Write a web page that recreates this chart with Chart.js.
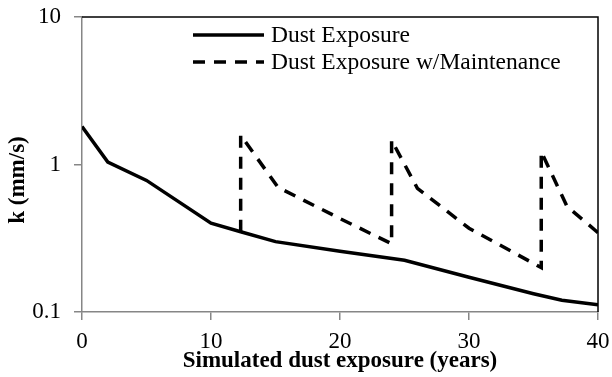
<!DOCTYPE html>
<html>
<head>
<meta charset="utf-8">
<script src="https://cdn.jsdelivr.net/npm/chart.js@4/dist/chart.umd.min.js"></script>
<style>
  body { margin: 0; background: #fff; }
  canvas { display: block; }
</style>
</head>
<body>
<canvas id="myChart" width="612" height="377"></canvas>
<script>
// values
var dustYears = [0, 2, 5, 10, 12.3, 15, 20, 25, 30, 35, 37.2, 40];
var dustK = [1.81, 1.04, 0.78, 0.40, 0.35, 0.30, 0.258, 0.224, 0.172, 0.133, 0.12, 0.112];

var maintYears = [12.3, 12.3, 15.2, 20, 24, 24, 26, 30, 35.6, 35.6, 37.6, 40];
var maintK = [0.35, 1.58, 0.70, 0.43, 0.29, 1.46, 0.69, 0.37, 0.2, 1.22, 0.52, 0.345];

var xTicks = [0, 10, 20, 30, 40];
var yTicks = [0.1, 1, 10];
var yTickLabels = ['0.1', '1', '10'];

var seriesLabels = ['Dust Exposure', 'Dust Exposure w/Maintenance'];

function pairs(xs, ys) {
    return xs.map(function (x, i) { return { x: x, y: ys[i] }; });
}

var serif = 'Liberation Serif, "Times New Roman", serif';
var tickFont = { family: serif, size: 23 };
var titleFont = { family: serif, size: 23, weight: 'bold' };
var axisGray = '#868686';

// legend drawn inside the plot, left aligned like the original
var insideLegend = {
    id: 'insideLegend',
    afterDraw: function (chart) {
        var ctx = chart.ctx;
        var rows = [35, 62];
        ctx.save();
        chart.data.datasets.forEach(function (ds, i) {
            var y = rows[i];
            ctx.beginPath();
            ctx.lineWidth = ds.borderWidth;
            ctx.strokeStyle = ds.borderColor;
            ctx.setLineDash(ds.borderDash || []);
            ctx.moveTo(193, y);
            ctx.lineTo(264, y);
            ctx.stroke();
            ctx.setLineDash([]);
            ctx.fillStyle = '#000';
            ctx.font = '23.5px ' + serif;
            ctx.textBaseline = 'middle';
            ctx.fillText(ds.label, 271, y + 1);
        });
        ctx.restore();
    }
};

// black frame on top/right, y title placed like the original
var frameAndTitle = {
    id: 'frameAndTitle',
    afterDraw: function (chart) {
        var a = chart.chartArea;
        var ctx = chart.ctx;
        ctx.save();
        ctx.strokeStyle = '#000';
        ctx.lineWidth = 1.5;
        ctx.beginPath();
        ctx.moveTo(a.left, a.top);
        ctx.lineTo(a.right, a.top);
        ctx.lineTo(a.right, a.bottom);
        ctx.stroke();

        ctx.translate(18, 180);
        ctx.rotate(-Math.PI / 2);
        ctx.fillStyle = '#000';
        ctx.font = 'bold 23px ' + serif;
        ctx.textAlign = 'center';
        ctx.textBaseline = 'middle';
        ctx.fillText('k (mm/s)', 0, 0);
        ctx.restore();
    }
};

var ctx = document.getElementById('myChart').getContext('2d');
var chart = new Chart(ctx, {
    type: 'line',
    data: {
        datasets: [{
            label: seriesLabels[0],
            data: pairs(dustYears, dustK),
            borderColor: '#000',
            borderWidth: 3.5,
            pointRadius: 0,
            tension: 0
        }, {
            label: seriesLabels[1],
            data: pairs(maintYears, maintK),
            borderColor: '#000',
            borderWidth: 3.5,
            borderDash: [12, 9],
            pointRadius: 0,
            tension: 0
        }]
    },
    options: {
        responsive: false,
        animation: false,
        layout: { padding: { top: 17, right: 14, left: 0, bottom: 0 } },
        plugins: {
            legend: { display: false },
            tooltip: { enabled: false }
        },
        scales: {
            x: {
                type: 'linear',
                min: 0,
                max: 40,
                afterBuildTicks: function (s) { s.ticks = xTicks.map(function (v) { return { value: v }; }); },
                afterFit: function (s) {
                    s.height = 65;
                    s.paddingLeft = 0;
                    s.paddingRight = 0;
                },
                ticks: { font: tickFont, color: '#000', padding: 8, maxRotation: 0 },
                grid: { drawOnChartArea: false, tickLength: 8, color: axisGray, lineWidth: 1.5 },
                border: { color: axisGray, width: 1.5 },
                title: {
                    display: true,
                    text: 'Simulated dust exposure (years)',
                    font: titleFont,
                    color: '#000',
                    padding: { top: 0, bottom: 2 }
                }
            },
            y: {
                type: 'logarithmic',
                min: 0.1,
                max: 10,
                afterBuildTicks: function (s) { s.ticks = yTicks.map(function (v) { return { value: v }; }); },
                afterFit: function (s) {
                    s.width = 82;
                    s.paddingTop = 0;
                    s.paddingBottom = 0;
                },
                ticks: {
                    font: tickFont,
                    color: '#000',
                    padding: 13,
                    callback: function (v) {
                        var i = yTicks.indexOf(v);
                        return i >= 0 ? yTickLabels[i] : '';
                    }
                },
                grid: { drawOnChartArea: false, tickLength: 8, color: axisGray, lineWidth: 1.5 },
                border: { color: axisGray, width: 1.5 }
            }
        }
    },
    plugins: [insideLegend, frameAndTitle]
});
</script>
</body>
</html>
